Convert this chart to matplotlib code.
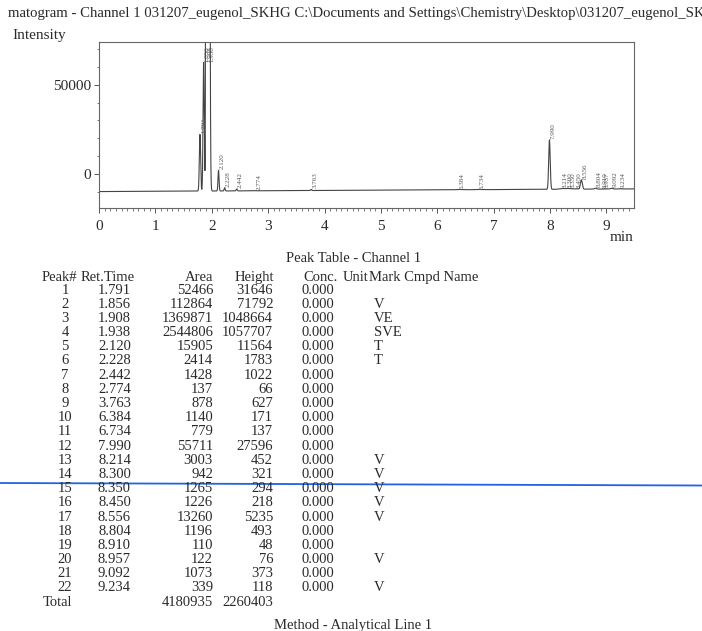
import numpy as np
import matplotlib.pyplot as plt
from matplotlib.lines import Line2D

plt.rcParams['font.family'] = ['Liberation Serif', 'DejaVu Serif']

# peak table - channel 1
peak_no = list(range(1, 23))
ret_time = [1.791, 1.856, 1.908, 1.938, 2.120, 2.228, 2.442, 2.774, 3.763, 6.384, 6.734,
            7.990, 8.214, 8.300, 8.350, 8.450, 8.556, 8.804, 8.910, 8.957, 9.092, 9.234]
area = [52466, 112864, 1369871, 2544806, 15905, 2414, 1428, 137, 878, 1140, 779,
        55711, 3003, 942, 1265, 1226, 13260, 1196, 110, 122, 1073, 339]
height = [31646, 71792, 1048664, 1057707, 11564, 1783, 1022, 66, 627, 171, 137,
          27596, 452, 321, 294, 218, 5235, 493, 48, 76, 373, 118]
conc = [0.0] * 22
mark = ['', 'V', 'VE', 'SVE', 'T', 'T', '', '', '', '', '',
        '', 'V', 'V', 'V', 'V', 'V', '', '', 'V', '', 'V']

baseline_start = -9700
baseline_end = -8200
t_end = 9.49

title = r"matogram - Channel 1 031207_eugenol_SKHG C:\Documents and Settings\Chemistry\Desktop\031207_eugenol_SKHG"

W, H = 702, 631
ink = '#2a2a2a'


def fx(px):
    return px / W


def fy(py):
    return 1 - py / H


fig = plt.figure(figsize=(W / 100, H / 100), dpi=100)

# chromatogram trace built from the peak table (gaussian peaks on a drifting baseline)
t = np.arange(0, t_end, 0.0005)
base = baseline_start + (baseline_end - baseline_start) * t / t_end
signal = base.copy()
for rt, a, h in zip(ret_time, area, height):
    sigma = a / h / np.sqrt(2 * np.pi) / 60.0
    signal += h * np.exp(-0.5 * ((t - rt) / sigma) ** 2)

ax = fig.add_axes([fx(99), fy(207.7), (634 - 99) / W, (207.7 - 42.2) / H])
ax.plot(t, signal, color='#444444', lw=0.8)
ax.set_xlim(0, t_end)
ax.set_ylim(-18700, 73700)

ax.set_xticks(range(0, 10))
ax.set_xticks(np.arange(0, 9.5, 0.1), minor=True)
ax.set_yticks([0, 50000])
ax.set_yticks(np.arange(-10000, 71000, 10000), minor=True)
ax.tick_params(axis='both', which='major', direction='out', length=3.5, width=0.7,
               colors='#555555', labelcolor=ink, labelsize=11)
ax.tick_params(axis='both', which='minor', direction='out', length=1.8, width=0.6, colors='#666666')
ax.tick_params(axis='x', pad=5)
ax.tick_params(axis='y', pad=2)
for s in ax.spines.values():
    s.set_color('#666666')
    s.set_linewidth(0.8)

# retention time labels at the peak tops
for rt, h in zip(ret_time, height):
    b = baseline_start + (baseline_end - baseline_start) * rt / t_end
    top = min(b + h, 62000)
    ax.text(rt + 0.02, top + 500, f'{rt:.3f}', rotation=90, ha='left', va='bottom',
            fontsize=5, color='#555555', clip_on=True)

fig.text(fx(8), fy(14), title, fontsize=10.6, color=ink, ha='left', va='center')
fig.text(fx(12), fy(35), 'Intensity', fontsize=11, color=ink, ha='left', va='center')
fig.text(fx(610), fy(238), 'min', fontsize=11, color=ink, ha='left', va='center')

# peak table
fs = 10.5
fig.text(fx(354), fy(259), 'Peak Table - Channel 1', fontsize=fs, color=ink, ha='center', va='center')
hy = fy(281)
fig.text(fx(77), hy, 'Peak#', fontsize=fs, color=ink, ha='right', va='baseline')
fig.text(fx(81), hy, 'Ret.Time', fontsize=fs, color=ink, ha='left', va='baseline')
fig.text(fx(213), hy, 'Area', fontsize=fs, color=ink, ha='right', va='baseline')
fig.text(fx(274), hy, 'Height', fontsize=fs, color=ink, ha='right', va='baseline')
fig.text(fx(338), hy, 'Conc.', fontsize=fs, color=ink, ha='right', va='baseline')
fig.text(fx(343), hy, 'Unit', fontsize=fs, color=ink, ha='left', va='baseline')
fig.text(fx(369), hy, 'Mark Cmpd Name', fontsize=fs, color=ink, ha='left', va='baseline')

row_h = 14.19
for i in range(len(peak_no)):
    y = fy(290 + i * row_h)
    fig.text(fx(65), y, str(peak_no[i]), fontsize=fs, color=ink, ha='center', va='center')
    fig.text(fx(131), y, f'{ret_time[i]:.3f}', fontsize=fs, color=ink, ha='right', va='center')
    fig.text(fx(213), y, str(area[i]), fontsize=fs, color=ink, ha='right', va='center')
    fig.text(fx(273), y, str(height[i]), fontsize=fs, color=ink, ha='right', va='center')
    fig.text(fx(334), y, f'{conc[i]:.3f}', fontsize=fs, color=ink, ha='right', va='center')
    if mark[i]:
        fig.text(fx(374), y, mark[i], fontsize=fs, color=ink, ha='left', va='center')

ty = fy(290 + 22 * row_h)
fig.text(fx(43), ty, 'Total', fontsize=fs, color=ink, ha='left', va='center')
fig.text(fx(213), ty, str(sum(area)), fontsize=fs, color=ink, ha='right', va='center')
fig.text(fx(273), ty, str(sum(height)), fontsize=fs, color=ink, ha='right', va='center')

fig.text(fx(353), fy(626), 'Method - Analytical Line 1', fontsize=fs, color=ink, ha='center', va='center')

# blue pen stroke across the page
fig.add_artist(Line2D([0, 1], [fy(483), fy(485.5)], transform=fig.transFigure,
                      color='#2262e6', lw=1.3))

fig.savefig('out.png', dpi=100)
